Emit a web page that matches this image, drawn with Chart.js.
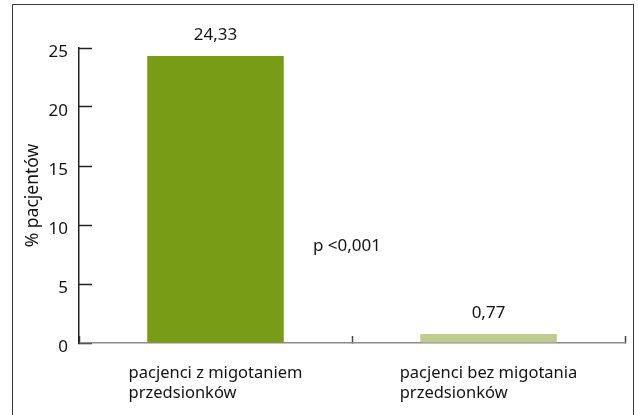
<!DOCTYPE html>
<html>
<head>
<meta charset="utf-8">
<script src="https://cdn.jsdelivr.net/npm/chart.js@4"></script>
<style>
  html, body { margin: 0; padding: 0; background: #fff; }
  #wrap { position: relative; width: 638px; height: 415px; overflow: hidden; }
  #frame {
    position: absolute; left: 12px; top: 4px; width: 620px; height: 430px;
    border: 1.5px solid #3a3a3a; pointer-events: none;
  }
  canvas { position: absolute; left: 0; top: 0; }
</style>
</head>
<body>
<div id="wrap">
  <canvas id="chart" width="638" height="415"></canvas>
  <div id="frame"></div>
</div>
<script>
// Share of patients, two groups
const groups = [
  ['pacjenci z migotaniem', 'przedsionków'],
  ['pacjenci bez migotania', 'przedsionków']
];
const percentValues = [24.33, 0.77];
const barColors = ['#789c15', '#bccb8e'];
const yTicks = [0, 5, 10, 15, 20, 25];
const yTitle = '% pacjentów';
const pValueText = 'p <0,001';

const FONT = 'Noto Sans';
const TEXT = '#141414';

// Values over bars, left-aligned two-line group names and the p-value note
const annotate = {
  id: 'annotate',
  afterDraw(chart) {
    const ctx = chart.ctx;
    const x = chart.scales.x;
    const y = chart.scales.y;
    const meta = chart.getDatasetMeta(0);
    ctx.save();
    ctx.fillStyle = TEXT;

    ctx.font = '17px "' + FONT + '"';
    ctx.textAlign = 'center';
    ctx.textBaseline = 'alphabetic';
    meta.data.forEach((bar, i) => {
      const label = percentValues[i].toFixed(2).replace('.', ',');
      ctx.fillText(label, bar.x, bar.y - 16);
    });

    ctx.fillText(pValueText, x.getPixelForValue(0.5) - 5, y.getPixelForValue(8) + 2);

    ctx.font = '16.5px "' + FONT + '"';
    ctx.textAlign = 'left';
    groups.forEach((lines, i) => {
      const cx = x.getPixelForValue(i);
      const w = Math.max(...lines.map(l => ctx.measureText(l).width));
      lines.forEach((line, j) => {
        ctx.fillText(line, cx - w / 2, chart.chartArea.bottom + 35 + j * 20);
      });
    });
    ctx.restore();
  }
};

new Chart(document.getElementById('chart'), {
  type: 'bar',
  data: {
    labels: groups,
    datasets: [{
      data: percentValues,
      backgroundColor: barColors,
      borderWidth: 0,
      barPercentage: 0.5,
      categoryPercentage: 1
    }]
  },
  options: {
    responsive: false,
    animation: false,
    layout: { padding: { top: 48, right: 13, left: 0, bottom: 0 } },
    plugins: {
      legend: { display: false },
      tooltip: { enabled: false }
    },
    scales: {
      x: {
        grid: {
          offset: true,
          drawOnChartArea: false,
          tickLength: -7,
          tickColor: '#444',
          tickWidth: 1.5
        },
        border: { color: '#8a8a8a', width: 1.5 },
        ticks: { display: false },
        afterFit(scale) { scale.height = 72; }
      },
      y: {
        min: 0,
        max: 25,
        afterBuildTicks(scale) { scale.ticks = yTicks.map(v => ({ value: v })); },
        grid: {
          drawOnChartArea: false,
          tickLength: -13,
          tickColor: '#222',
          tickWidth: 1.5
        },
        border: { color: '#222', width: 1.5 },
        ticks: {
          color: TEXT,
          padding: 24,
          labelOffset: 4,
          font: { family: FONT, size: 17 }
        },
        title: {
          display: true,
          text: yTitle,
          color: TEXT,
          font: { family: FONT, size: 17.5 },
          padding: { top: 23, bottom: 0 }
        },
        afterFit(scale) { scale.width = 79; }
      }
    }
  },
  plugins: [annotate]
});
</script>
</body>
</html>
